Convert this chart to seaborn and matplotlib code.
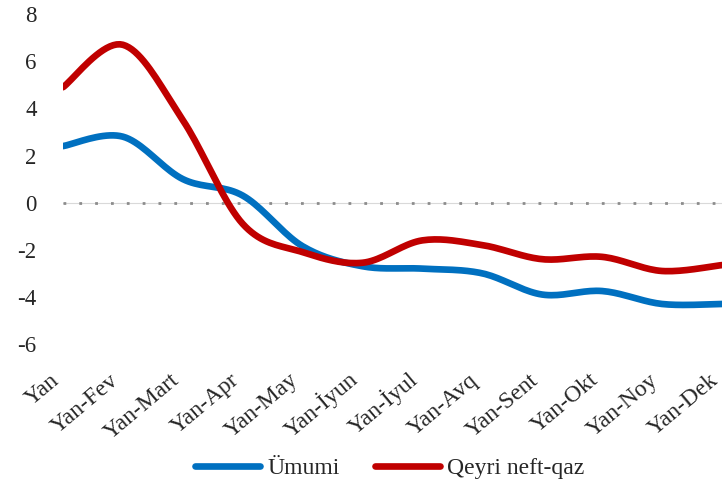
import numpy as np
import pandas as pd
import matplotlib
matplotlib.use("Agg")
import matplotlib.pyplot as plt
import seaborn as sns

sns.set_style("white")
plt.rcParams["font.family"] = ["Liberation Serif", "DejaVu Serif"]

# data
months = ["Yan", "Yan-Fev", "Yan-Mart", "Yan-Apr", "Yan-May", "Yan-İyun",
          "Yan-İyul", "Yan-Avq", "Yan-Sent", "Yan-Okt", "Yan-Noy", "Yan-Dek"]
umumi = [2.4, 2.8, 1.0, 0.3, -1.85, -2.7, -2.8, -3.0, -3.9, -3.75, -4.3, -4.3]
qeyri = [4.9, 6.7, 3.5, -0.9, -2.1, -2.55, -1.6, -1.8, -2.4, -2.3, -2.9, -2.65]
series_names = ["Ümumi", "Qeyri neft-qaz"]
colors = ["#0070C0", "#C00000"]


def smooth(xs, ys, steps=20):
    # Excel-style smoothed line (Catmull-Rom as cubic Bezier)
    xs = np.asarray(xs, float)
    ys = np.asarray(ys, float)
    n = len(xs)
    px, py = [], []
    for i in range(n - 1):
        i0, i3 = max(i - 1, 0), min(i + 2, n - 1)
        p0 = np.array([xs[i], ys[i]])
        p3 = np.array([xs[i + 1], ys[i + 1]])
        c1 = p0 + (p3 - np.array([xs[i0], ys[i0]])) / 6
        c2 = p3 - (np.array([xs[i3], ys[i3]]) - p0) / 6
        t = np.linspace(0, 1, steps, endpoint=(i == n - 2))[:, None]
        pts = ((1 - t) ** 3) * p0 + 3 * ((1 - t) ** 2) * t * c1 \
            + 3 * (1 - t) * t ** 2 * c2 + t ** 3 * p3
        px.extend(pts[:, 0])
        py.extend(pts[:, 1])
    return px, py


frames = []
for name, vals in zip(series_names, [umumi, qeyri]):
    sx, sy = smooth(range(len(months)), vals)
    frames.append(pd.DataFrame({"x": sx, "y": sy, "series": name}))
df = pd.concat(frames, ignore_index=True)

fig = plt.figure(figsize=(7.27, 4.88), dpi=100)
ax = fig.add_axes([0.0867, 0.295, 0.9063, 0.676])

# zero line: faint grey line with grey square dots on it
ax.axhline(0, color="#d9d9d9", lw=0.8, zorder=1)
ax.axhline(0, color="#8c8c8c", lw=2.0, ls=(0, (1, 4.7)), zorder=1)

sns.lineplot(data=df, x="x", y="y", hue="series", palette=colors,
             hue_order=series_names, sort=False, estimator=None,
             linewidth=4.8, ax=ax, zorder=3, legend=True)

ax.set_xlim(0, len(months) - 1)
ax.set_ylim(-6, 8)
ax.set_yticks(range(-6, 9, 2))
ax.set_yticklabels([str(v) for v in range(-6, 9, 2)], fontsize=16.5)
ax.set_xticks(range(len(months)))
ax.set_xticklabels(months, fontsize=17, rotation=40, ha="right",
                   va="bottom", rotation_mode="anchor")
ax.tick_params(axis="y", length=0, pad=19)
ax.tick_params(axis="x", length=0, pad=30)
ax.set_xlabel("")
ax.set_ylabel("")
for s in ax.spines.values():
    s.set_visible(False)

handles, labels = ax.get_legend_handles_labels()
ax.legend_.remove()
fig.legend(handles, labels, loc="center", bbox_to_anchor=(0.536, 0.04),
           ncol=2, frameon=False, fontsize=17, handlelength=2.75,
           columnspacing=1.5, handletextpad=0.3)

fig.savefig("out.png", dpi=100)
